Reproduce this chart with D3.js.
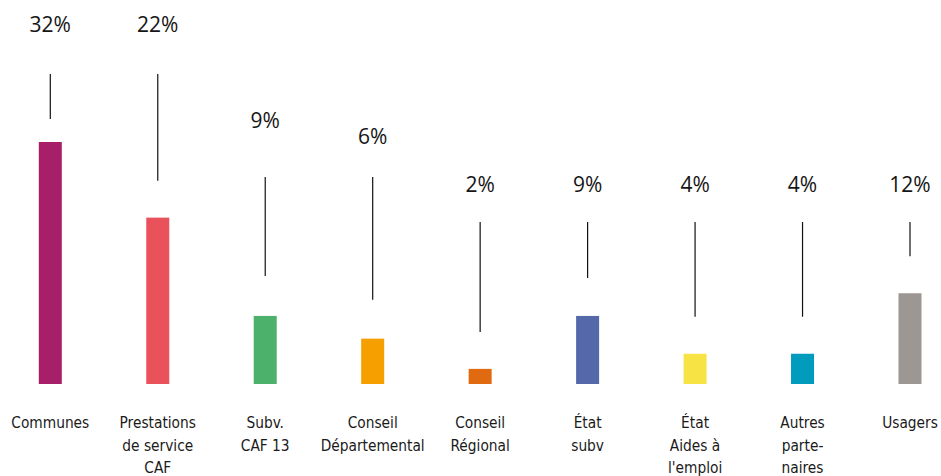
<!DOCTYPE html>
<html><head><meta charset="utf-8">
<script src="https://cdn.jsdelivr.net/npm/d3@7"></script>
<style>
html,body{margin:0;padding:0;background:#fff;}
svg{display:block;}
</style></head>
<body>
<script>
// ---- data ----
const categories = ["Communes","Prestations de service CAF","Subv. CAF 13","Conseil Départemental","Conseil Régional","État subv","État Aides à l'emploi","Autres partenaires","Usagers"];
const categoryLines = [["Communes"],["Prestations","de service","CAF"],["Subv.","CAF 13"],["Conseil","Départemental"],["Conseil","Régional"],["État","subv"],["État","Aides à","l'emploi"],["Autres","parte-","naires"],["Usagers"]];
const values = [32,22,9,6,2,9,4,4,12];
const colors = ["#a81f69","#e9525a","#4bb16b","#f5a000","#e06a10","#5468aa","#f8e344","#009bbd","#9c9792"];
// label tier per category (layout) and leader gap above bar
const labelTier = [0,0,1,2,3,3,3,3,3];
const leaderGap = [23,37,40,39,37,38,37,37,37];

// ---- layout ----
const W = 941, H = 476;
const baseY = 384, topY = 142;
const barW = 23;
const tiers = [{label:32, line:74},{label:128, line:177},{label:144, line:177},{label:192, line:222}];

const svg = d3.select("body").append("svg").attr("width",W).attr("height",H);

const x = d3.scalePoint().domain(categories).range([50.3, 910]);
const y = d3.scaleLinear().domain([0, 32]).range([baseY, topY]);

const data = categories.map((c,i)=>({c, v:values[i], col:colors[i], lines:categoryLines[i], tier:tiers[labelTier[i]], gap:leaderGap[i]}));

// bars
svg.selectAll("rect.bar").data(data).join("rect")
  .attr("class","bar")
  .attr("x", d=>x(d.c)-barW/2)
  .attr("width", barW)
  .attr("y", d=>y(d.v))
  .attr("height", d=>y(0)-y(d.v))
  .attr("fill", d=>d.col);

// leader lines
svg.selectAll("line.leader").data(data).join("line")
  .attr("class","leader")
  .attr("x1", d=>x(d.c)).attr("x2", d=>x(d.c))
  .attr("y1", d=>d.tier.line)
  .attr("y2", d=>y(d.v)-d.gap)
  .attr("stroke","#111").attr("stroke-width",1.2);

// value labels
svg.selectAll("text.val").data(data).join("text")
  .attr("class","val")
  .attr("x", d=>x(d.c))
  .attr("y", d=>d.tier.label)
  .attr("text-anchor","middle")
  .attr("font-family","'Open Sans', sans-serif")
  .attr("font-size", 21)
  .attr("fill","#151515")
  .text(d=>d.v+"%");

// category labels
const cat = svg.selectAll("text.cat").data(data).join("text")
  .attr("class","cat")
  .attr("text-anchor","middle")
  .attr("font-family","'DejaVu Sans Condensed', sans-serif")
  .attr("font-size", 15.3)
  .attr("fill","#1a1a1a");
cat.each(function(d){
  const t = d3.select(this);
  d.lines.forEach((ln,j)=>{
    t.append("tspan").attr("x", x(d.c)).attr("y", 428 + j*22.5).text(ln);
  });
});
</script>
</body></html>
